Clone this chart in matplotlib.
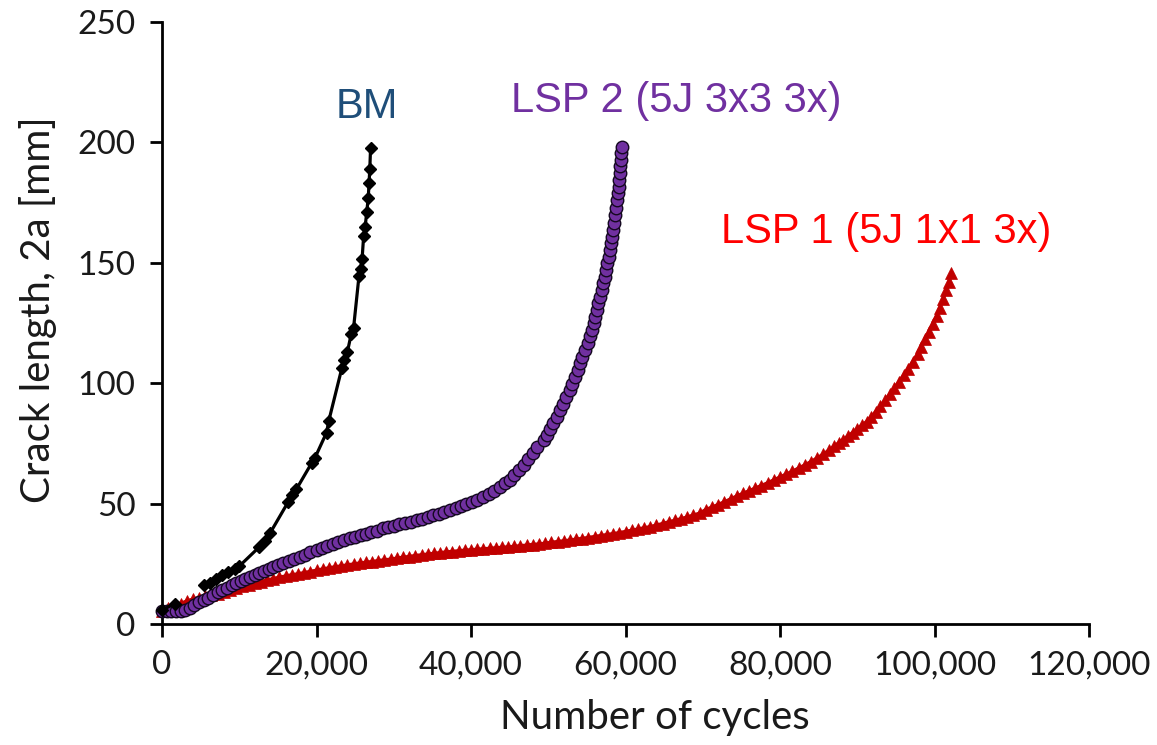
import matplotlib
matplotlib.use("Agg")
import matplotlib.pyplot as plt
from matplotlib.ticker import FuncFormatter, MultipleLocator

# ---------------- data ----------------
# NaN marks a gap in the BM record (the first readings are not joined by the line)
bm_cycles = [0, 1700, float("nan"), 5500, 6200, 7000, 7800, 8600, 9400, 10000, 12600, 13300, 14000,
             16300, 16800, 17400, 19400, 19800, 21300, 21600, 23300, 23600, 24000,
             24500, 24800, 25500, 25700, 25900, 26100, 26300, 26500, 26700, 26800,
             26900, 27000]
bm_crack = [5.8, 8.5, float("nan"), 16.2, 17.0, 18.5, 20.2, 21.8, 23.0, 24.0, 32.0, 34.5, 37.8,
            50.5, 53.5, 56.0, 67.0, 69.0, 79.5, 84.5, 106.5, 109.5, 113.0,
            120.5, 123.0, 144.5, 147.5, 151.5, 161.0, 165.0, 171.0, 177.0, 183.0,
            189.0, 197.7]

lsp2_cycles = [0, 600, 1200, 1800, 2400, 3000, 3600, 4200, 4800, 5400, 6000, 6600,
               7200, 7800, 8400, 9000, 9600, 10200, 10800, 11400, 12000, 12600,
               13200, 13800, 14400, 15000, 15700, 16400, 17100, 17800, 18500, 19200,
               20000, 20700, 21400, 22100, 22800, 23500, 24300, 25000, 25700, 26400,
               27100, 27800, 28600, 29300, 30000, 30700, 31400, 32200, 33000, 33700,
               34400, 35100, 35800, 36500, 37300, 38000, 38700, 39400, 40100, 40800,
               41600, 42300, 43000, 43700, 44400, 45000, 45600, 46200, 46800, 47400,
               48000, 48600, 49400, 49800, 50200, 50600, 51100, 51500, 51900, 52300,
               52800, 53100, 53500, 53800, 54100, 54400, 54700, 55100, 55400, 55600,
               55900, 56100, 56300, 56500, 56700, 56900, 57100, 57300, 57500, 57600,
               57800, 57950, 58100, 58250, 58400, 58550, 58700, 58800, 58900, 59000,
               59100, 59200, 59300, 59350, 59400, 59450, 59500]
lsp2_crack = [5.5, 5.5, 5.5, 5.6, 5.6, 5.8, 6.8, 8.0, 9.0, 10.0, 11.0, 12.0,
              13.1, 14.1, 15.0, 16.0, 16.9, 17.8, 18.7, 19.6, 20.4, 21.2,
              22.0, 22.8, 23.6, 24.4, 25.2, 26.1, 27.0, 27.9, 28.8, 29.7,
              30.7, 31.5, 32.4, 33.2, 34.0, 34.8, 35.6, 36.2, 36.8, 37.4,
              38.0, 38.6, 39.8, 40.3, 40.8, 41.4, 41.9, 42.5, 43.2, 43.8,
              44.5, 45.1, 45.8, 46.5, 47.3, 48.1, 48.9, 49.8, 50.7, 51.7,
              52.8, 54.0, 55.4, 56.9, 58.4, 59.8, 61.8, 63.8, 66.0, 68.4,
              70.9, 73.4, 76.4, 78.6, 81.0, 83.4, 86.1, 88.8, 91.5, 94.2,
              97.2, 99.8, 102.6, 105.4, 108.3, 110.9, 113.7, 116.6, 119.4, 122.0,
              124.8, 127.6, 130.4, 133.2, 136.0, 138.7, 141.5, 144.2, 147.0, 149.8,
              152.5, 155.3, 158.1, 160.8, 163.6, 166.7, 169.8, 172.9, 176.0, 178.8,
              181.6, 184.4, 187.2, 190.0, 192.7, 195.5, 198.2]

lsp1_cycles = [0, 800, 1600, 2400, 3200, 4000, 4800, 5600, 6400, 7200, 8000, 8800,
               9600, 10400, 11200, 12000, 12800, 13600, 14400, 15200, 16000, 16800,
               17600, 18400, 19200, 20000, 20800, 21600, 22400, 23200, 24000, 24800,
               25600, 26400, 27200, 28000, 28800, 29600, 30400, 31200, 32000, 32800,
               33600, 34400, 35200, 36000, 36800, 37600, 38400, 39200, 40000, 40800,
               41600, 42400, 43200, 44000, 44800, 45600, 46400, 47200, 48000, 48800,
               49600, 50400, 51200, 52000, 52800, 53600, 54400, 55200, 56000, 56800,
               57600, 58400, 59200, 60000, 60800, 61600, 62400, 63200, 64000, 64800,
               65600, 66400, 67200, 68000, 68800, 69600, 70400, 71200, 72000, 72800,
               73600, 74400, 75200, 76000, 76800, 77600, 78400, 79200, 80000, 80800,
               81600, 82400, 83200, 84000, 84800, 85600, 86400, 87000, 87600, 88200,
               88800, 89400, 90000, 90600, 91200, 91800, 92400, 93000, 93600, 94200,
               94800, 95400, 96000, 96600, 97200, 97800, 98300, 98800, 99300, 99800,
               100300, 100700, 101100, 101500, 101900, 102200]
lsp1_crack = [5.5, 6.5, 7.5, 8.5, 9.5, 10.3, 10.9, 11.5, 12.0, 12.6, 13.3, 14.1,
              14.8, 15.6, 16.3, 17.0, 17.6, 18.2, 18.8, 19.4, 19.9, 20.4,
              20.8, 21.3, 21.8, 22.3, 22.8, 23.3, 23.7, 24.1, 24.5, 24.9,
              25.3, 25.6, 25.9, 26.3, 26.6, 26.9, 27.3, 27.7, 28.0, 28.4,
              28.7, 29.0, 29.3, 29.6, 29.9, 30.1, 30.4, 30.6, 30.8, 31.0,
              31.2, 31.4, 31.6, 31.8, 32.0, 32.2, 32.5, 32.7, 33.0, 33.2,
              33.5, 33.9, 34.2, 34.5, 34.8, 35.2, 35.5, 35.9, 36.3, 36.7,
              37.1, 37.5, 37.9, 38.4, 38.9, 39.4, 39.9, 40.4, 41.0, 41.7,
              42.4, 43.0, 43.7, 44.4, 45.2, 46.0, 47.5, 48.5, 49.6, 50.7,
              51.9, 53.1, 54.2, 55.3, 56.4, 57.5, 58.6, 59.8, 61.0, 62.2,
              63.4, 64.7, 66.0, 67.4, 68.9, 70.5, 72.3, 73.8, 75.2, 76.6,
              78.0, 79.5, 81.0, 82.5, 84.0, 86.0, 88.2, 90.5, 92.9, 95.4,
              98.0, 100.6, 103.3, 106.1, 109.0, 112.0, 115.1, 118.3, 121.4, 124.6,
              128.0, 131.4, 135.0, 138.6, 142.2, 145.7]

series_labels = ["BM", "LSP 2 (5J 3x3 3x)", "LSP 1 (5J 1x1 3x)"]
x_label = "Number of cycles"
y_label = "Crack length, 2a [mm]"

# ---------------- plotting ----------------
W, H = 1157, 745
fig = plt.figure(figsize=(W / 100, H / 100), dpi=100)
ax = fig.add_axes([162 / W, 1 - 624 / H, (1089 - 162) / W, (624 - 22) / H])

tick_font = "Lato"
ann_font = "Liberation Sans"

ax.plot(lsp1_cycles, lsp1_crack, linestyle="-", color="#C00000", lw=2.5,
        marker="^", ms=8.5, mfc="#C00000", mec="#C00000", mew=0.5, zorder=2, clip_on=False)
ax.plot(lsp2_cycles, lsp2_crack, linestyle="-", color="#7030A0", lw=1,
        marker="o", ms=9, mfc="#7030A0", mec="#140820", mew=1.0, zorder=3, clip_on=False)
ax.plot(bm_cycles, bm_crack, linestyle="-", color="black", lw=2.3,
        marker="D", ms=6.5, mfc="black", mec="black", zorder=4, clip_on=False)

ax.set_xlim(0, 120000)
ax.set_ylim(0, 250)
ax.xaxis.set_major_locator(MultipleLocator(20000))
ax.yaxis.set_major_locator(MultipleLocator(50))
ax.xaxis.set_major_formatter(FuncFormatter(lambda v, p: f"{int(v):,}"))

for s in ["top", "right"]:
    ax.spines[s].set_visible(False)
for s in ["left", "bottom"]:
    ax.spines[s].set_linewidth(2)
    ax.spines[s].set_color("black")

ax.tick_params(axis="both", direction="out", length=9, width=2, color="black",
               labelsize=24, pad=10)
for lab in ax.get_xticklabels() + ax.get_yticklabels():
    lab.set_fontfamily(tick_font)
    lab.set_color("#1a1a1a")

ax.set_xlabel(x_label, fontsize=29, fontfamily=tick_font, color="#1a1a1a")
ax.set_ylabel(y_label, fontsize=29, fontfamily=tick_font, color="#1a1a1a")
ax.xaxis.set_label_coords((655 - 162) / (1089 - 162), -(717 - 624) / (624 - 22))
ax.yaxis.set_label_coords(-(162 - 38) / (1089 - 162), (624 - 310) / (624 - 22))
ax.xaxis.label.set_va("center")
ax.yaxis.label.set_va("center")

fig.text(367 / W, 1 - 107 / H, series_labels[0], fontsize=30, fontfamily=ann_font,
         color="#1F4E79", ha="center", va="center")
fig.text(676 / W, 1 - 101 / H, series_labels[1], fontsize=30, fontfamily=ann_font,
         color="#7030A0", ha="center", va="center")
fig.text(886 / W, 1 - 232 / H, series_labels[2], fontsize=30, fontfamily=ann_font,
         color="#FF0000", ha="center", va="center")

fig.savefig("out.png", dpi=100)
